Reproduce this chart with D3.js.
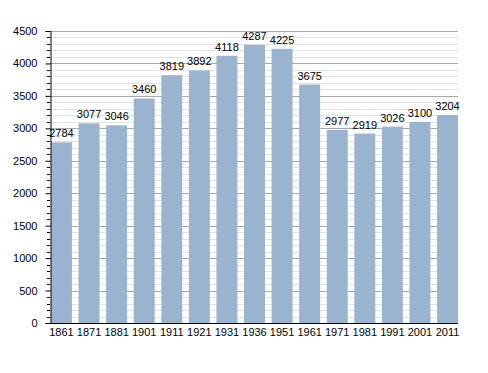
<!DOCTYPE html>
<html>
<head>
<meta charset="utf-8">
<script src="https://cdn.jsdelivr.net/npm/d3@7"></script>
<style>
  body { margin: 0; background: #fff; }
  text { font-family: "Liberation Sans", Arial, sans-serif; font-size: 11px; fill: #000; }
</style>
</head>
<body>
<script>
var years = ["1861","1871","1881","1901","1911","1921","1931","1936","1951","1961","1971","1981","1991","2001","2011"];
var population = [2784,3077,3046,3460,3819,3892,4118,4287,4225,3675,2977,2919,3026,3100,3204];
var yTicks = [0,500,1000,1500,2000,2500,3000,3500,4000,4500];

var w = 488, h = 373;
// note: "top" clashes with window.top, so use plotTop
var plotLeft = 50, plotRight = 458, plotTop = 31, plotBottom = 323;

var svg = d3.select("body").append("svg")
  .attr("width", w)
  .attr("height", h);

var x = d3.scaleBand()
  .domain(years)
  .range([51, plotRight])
  .paddingInner(0.24)
  .paddingOuter(0);

var y = d3.scaleLinear()
  .domain([0, 4500])
  .range([plotBottom, plotTop]);

// minor grid every 100
var minor = d3.range(100, 4501, 100).filter(function(d) { return d % 500 !== 0; });
svg.append("g").selectAll("line")
  .data(minor)
  .enter().append("line")
    .attr("x1", plotLeft).attr("x2", plotRight)
    .attr("y1", function(d) { return Math.round(y(d)) + 0.5; })
    .attr("y2", function(d) { return Math.round(y(d)) + 0.5; })
    .attr("stroke", "#e2e2e2");

// major grid
svg.append("g").selectAll("line")
  .data(yTicks.filter(function(d) { return d > 0; }))
  .enter().append("line")
    .attr("x1", plotLeft).attr("x2", plotRight)
    .attr("y1", function(d) { return Math.round(y(d)) + 0.5; })
    .attr("y2", function(d) { return Math.round(y(d)) + 0.5; })
    .attr("stroke", "#a8a8a8");

// bars
svg.append("g").selectAll("rect")
  .data(population)
  .enter().append("rect")
    .attr("x", function(d, i) { return x(years[i]); })
    .attr("y", function(d) { return y(d); })
    .attr("width", x.bandwidth())
    .attr("height", function(d) { return plotBottom - y(d); })
    .attr("fill", "#9ab3cf");

// value labels
svg.append("g").selectAll("text")
  .data(population)
  .enter().append("text")
    .attr("x", function(d, i) { return x(years[i]) + x.bandwidth() / 2; })
    .attr("y", function(d) { return y(d) - 5; })
    .attr("text-anchor", "middle")
    .text(function(d) { return d; });

// y axis
var yAxis = d3.axisLeft(y).tickValues(yTicks).tickSize(5).tickPadding(8).tickFormat(d3.format("d"));
var gy = svg.append("g")
  .attr("transform", "translate(" + (plotLeft + 0.5) + ",0)")
  .call(yAxis);
gy.select(".domain").attr("stroke", "#000");
gy.selectAll("text").style("font-size", "11px").style("font-family", "Liberation Sans, Arial, sans-serif");
gy.selectAll(".tick line").attr("stroke", "#000");

// minor ticks on y axis
svg.append("g").selectAll("line")
  .data(minor)
  .enter().append("line")
    .attr("x1", plotLeft - 3).attr("x2", plotLeft)
    .attr("y1", function(d) { return Math.round(y(d)) + 0.5; })
    .attr("y2", function(d) { return Math.round(y(d)) + 0.5; })
    .attr("stroke", "#000");

// x axis
var xAxis = d3.axisBottom(x).tickSize(0).tickPadding(5);
var gx = svg.append("g")
  .attr("transform", "translate(0," + (plotBottom + 0.5) + ")")
  .call(xAxis);
gx.select(".domain").attr("stroke", "#000").attr("d", "M" + plotLeft + ",0H" + plotRight);
gx.selectAll("text").style("font-size", "11px").style("font-family", "Liberation Sans, Arial, sans-serif");
</script>
</body>
</html>
